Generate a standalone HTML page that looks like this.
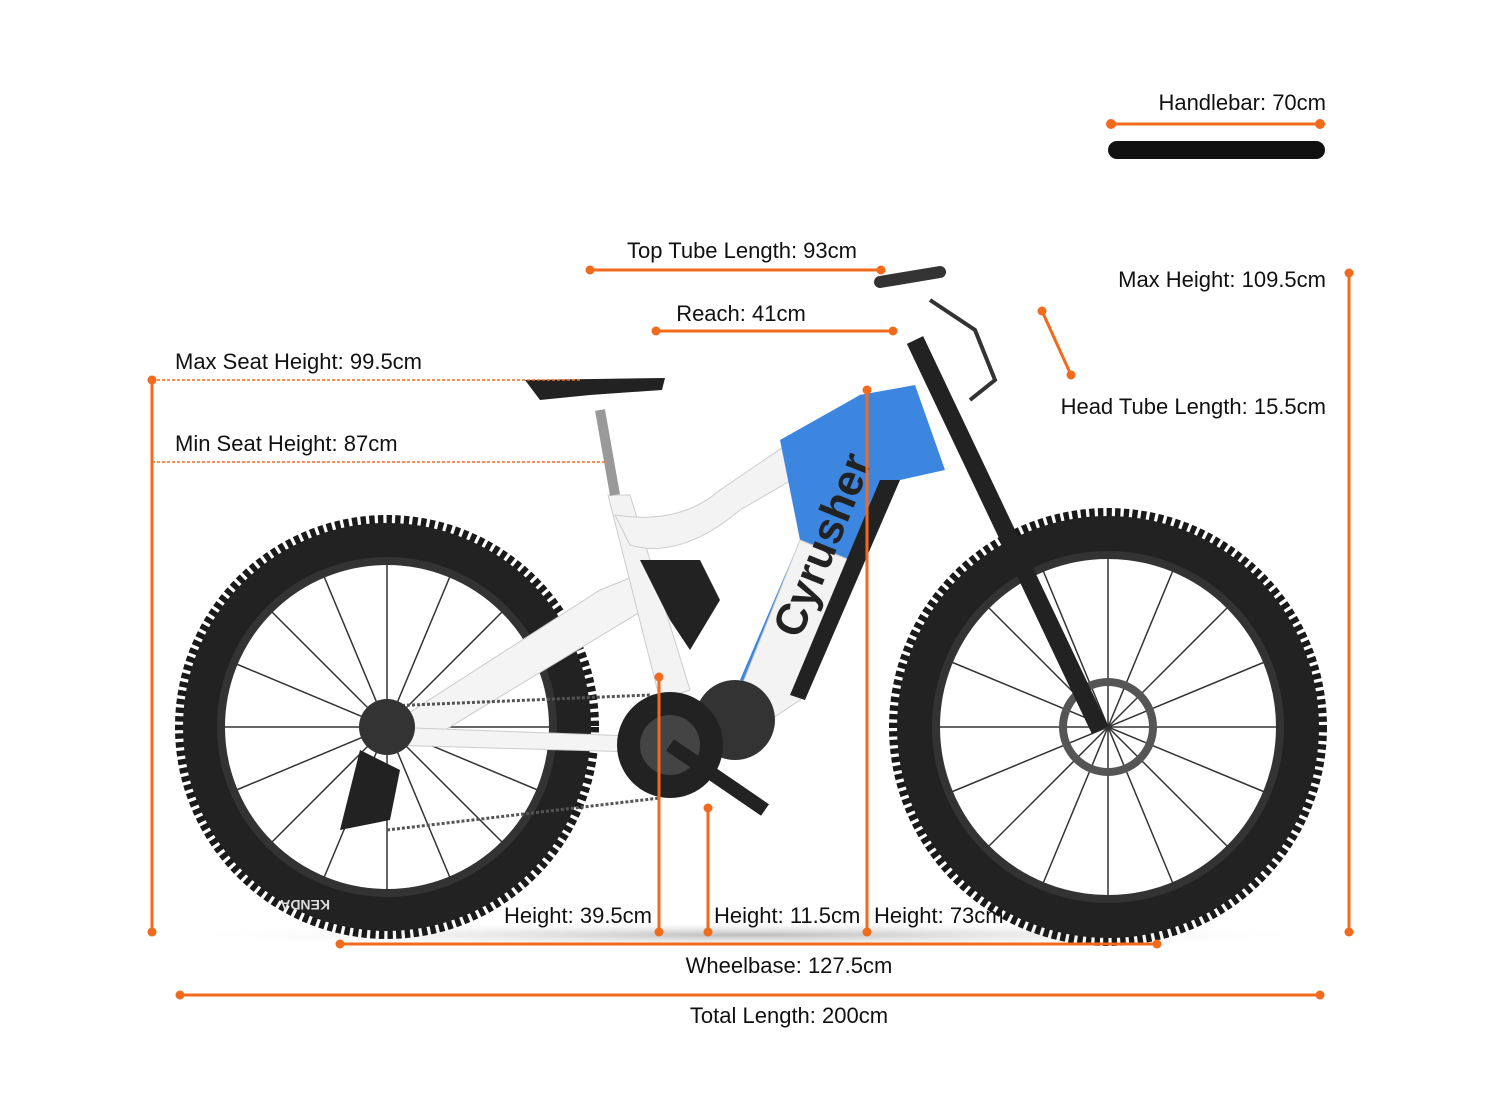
<!DOCTYPE html>
<html><head><meta charset="utf-8"><style>
html,body{margin:0;padding:0;background:#fff}
svg{display:block}
text{font-family:"Liberation Sans",Arial,sans-serif;font-size:22px;fill:#111}
</style></head><body>
<svg width="1500" height="1105" viewBox="0 0 1500 1105" xmlns="http://www.w3.org/2000/svg">
<defs>
<radialGradient id="sh" cx="50%" cy="50%" r="50%"><stop offset="0" stop-color="#bbb"/><stop offset="1" stop-color="#fff" stop-opacity="0"/></radialGradient>
</defs>
<ellipse cx="750" cy="935" rx="590" ry="14" fill="url(#sh)"/>
<!-- rear wheel -->
<g>
<circle cx="387" cy="727" r="192" fill="none" stroke="#1a1a1a" stroke-width="40" stroke-dasharray="5 3"/>
<circle cx="387" cy="727" r="186" fill="none" stroke="#222" stroke-width="36"/>
<circle cx="387" cy="727" r="166" fill="none" stroke="#333" stroke-width="8"/>
<g stroke="#333" stroke-width="1.5">
<line x1="387" y1="561" x2="387" y2="893"/><line x1="221" y1="727" x2="553" y2="727"/>
<line x1="270" y1="610" x2="504" y2="844"/><line x1="504" y1="610" x2="270" y2="844"/>
<line x1="323" y1="574" x2="451" y2="880"/><line x1="451" y1="574" x2="323" y2="880"/>
<line x1="234" y1="663" x2="540" y2="791"/><line x1="234" y1="791" x2="540" y2="663"/>
</g>
<text x="330" y="890" transform="rotate(180 330 895)" style="font-size:14px;fill:#ddd;font-weight:bold">KENDA</text>
</g>
<!-- front wheel -->
<g>
<circle cx="1108" cy="727" r="199" fill="none" stroke="#1a1a1a" stroke-width="40" stroke-dasharray="5 3"/>
<circle cx="1108" cy="727" r="193" fill="none" stroke="#222" stroke-width="36"/>
<circle cx="1108" cy="727" r="172" fill="none" stroke="#333" stroke-width="8"/>
<g stroke="#333" stroke-width="1.5">
<line x1="1108" y1="555" x2="1108" y2="899"/><line x1="936" y1="727" x2="1280" y2="727"/>
<line x1="987" y1="606" x2="1229" y2="848"/><line x1="1229" y1="606" x2="987" y2="848"/>
<line x1="1042" y1="568" x2="1174" y2="886"/><line x1="1174" y1="568" x2="1042" y2="886"/>
<line x1="949" y1="661" x2="1267" y2="793"/><line x1="949" y1="793" x2="1267" y2="661"/>
</g>
<circle cx="1108" cy="727" r="45" fill="none" stroke="#555" stroke-width="8"/>
</g>
<!-- fork -->
<line x1="915" y1="340" x2="1100" y2="730" stroke="#222" stroke-width="18"/>
<!-- handlebar/cables -->
<path d="M880 282 L940 272" fill="none" stroke="#333" stroke-width="12" stroke-linecap="round"/>
<path d="M930 300 L975 330 L995 380 L970 400" fill="none" stroke="#333" stroke-width="4"/>
<!-- rear triangle -->
<path d="M387 727 L600 590 L650 570 L660 600 L420 745 Z" fill="#f4f4f4" stroke="#ccc"/>
<path d="M387 727 L740 740 L740 755 L387 745 Z" fill="#f4f4f4" stroke="#ccc"/>
<path d="M608 495 L630 495 L690 690 L660 700 Z" fill="#f3f3f3" stroke="#ccc"/>
<line x1="600" y1="410" x2="615" y2="495" stroke="#999" stroke-width="10"/>
<path d="M525 380 L665 378 L662 390 L590 395 L540 400 Z" fill="#222"/>
<path d="M615 515 Q680 525 720 490 L860 395 L900 392 L895 420 L740 510 Q680 560 630 545 Z" fill="#f3f3f3" stroke="#ccc"/>
<path d="M780 440 L860 395 L915 385 L945 470 L900 480 L800 700 L740 680 L800 540 Z" fill="#3d86e0"/>
<path d="M800 540 L850 560 L800 700 L770 720 L740 690 Z" fill="#f3f3f3" stroke="#ccc"/>
<path d="M880 480 L900 480 L805 700 L790 695 Z" fill="#222"/>
<text x="800" y="640" transform="rotate(-68 800 640)" style="font-size:44px;fill:#222;font-weight:bold">Cyrusher</text>
<path d="M640 560 L700 560 L720 600 L690 650 L670 620 Z" fill="#222"/>
<circle cx="735" cy="720" r="40" fill="#333"/>
<circle cx="670" cy="745" r="53" fill="#222"/>
<circle cx="670" cy="745" r="30" fill="#444"/>
<line x1="670" y1="745" x2="765" y2="810" stroke="#222" stroke-width="14"/>
<line x1="387" y1="706" x2="650" y2="695" stroke="#555" stroke-width="3" stroke-dasharray="3 2"/>
<line x1="387" y1="830" x2="660" y2="798" stroke="#555" stroke-width="3" stroke-dasharray="3 2"/>
<circle cx="387" cy="727" r="28" fill="#333"/>
<path d="M360 750 L400 770 L390 820 L340 830 Z" fill="#222"/>

<!-- handlebar icon -->
<path d="M1117 150 L1316 150" stroke="#111" stroke-width="18" stroke-linecap="round"/>

<g stroke="#f26a1b" stroke-width="3" fill="none">
<line x1="1111" y1="124" x2="1320" y2="124"/>
<line x1="590" y1="270" x2="881" y2="270"/>
<line x1="656" y1="331" x2="893" y2="331"/>
<line x1="1349" y1="273" x2="1349" y2="932"/>
<line x1="1042" y1="311" x2="1071" y2="375"/>
<line x1="152" y1="380" x2="152" y2="932"/>
<line x1="659" y1="677" x2="659" y2="932"/>
<line x1="708" y1="808" x2="708" y2="932"/>
<line x1="867" y1="390" x2="867" y2="932"/>
<line x1="340" y1="944" x2="1157" y2="944"/>
<line x1="180" y1="995" x2="1320" y2="995"/>
</g>
<g stroke="#f26a1b" stroke-width="1.5" stroke-dasharray="3 2">
<line x1="152" y1="380" x2="580" y2="380"/>
<line x1="152" y1="462" x2="605" y2="462"/>
</g>
<g fill="#f26a1b">
<circle cx="1111" cy="124" r="5"/><circle cx="1320" cy="124" r="5"/>
<circle cx="590" cy="270" r="4.5"/><circle cx="881" cy="270" r="4.5"/>
<circle cx="656" cy="331" r="4.5"/><circle cx="893" cy="331" r="4.5"/>
<circle cx="1349" cy="273" r="4.5"/><circle cx="1349" cy="932" r="4.5"/>
<circle cx="1042" cy="311" r="4.5"/><circle cx="1071" cy="375" r="4.5"/>
<circle cx="152" cy="380" r="4.5"/><circle cx="152" cy="932" r="4.5"/>
<circle cx="659" cy="677" r="4.5"/><circle cx="659" cy="932" r="4.5"/>
<circle cx="708" cy="808" r="4.5"/><circle cx="708" cy="932" r="4.5"/>
<circle cx="867" cy="390" r="4.5"/><circle cx="867" cy="932" r="4.5"/>
<circle cx="340" cy="944" r="4.5"/><circle cx="1157" cy="944" r="4.5"/>
<circle cx="180" cy="995" r="4.5"/><circle cx="1320" cy="995" r="4.5"/>
</g>

<text x="1326" y="110" text-anchor="end">Handlebar: 70cm</text>
<text x="742" y="258" text-anchor="middle">Top Tube Length: 93cm</text>
<text x="741" y="321" text-anchor="middle">Reach: 41cm</text>
<text x="1326" y="287" text-anchor="end">Max Height: 109.5cm</text>
<text x="1326" y="414" text-anchor="end">Head Tube Length: 15.5cm</text>
<text x="175" y="369">Max Seat Height: 99.5cm</text>
<text x="175" y="451">Min Seat Height: 87cm</text>
<text x="652" y="923" text-anchor="end">Height: 39.5cm</text>
<text x="714" y="923">Height: 11.5cm</text>
<text x="874" y="923">Height: 73cm</text>
<text x="789" y="973" text-anchor="middle">Wheelbase: 127.5cm</text>
<text x="789" y="1023" text-anchor="middle">Total Length: 200cm</text>
</svg>
</body></html>
